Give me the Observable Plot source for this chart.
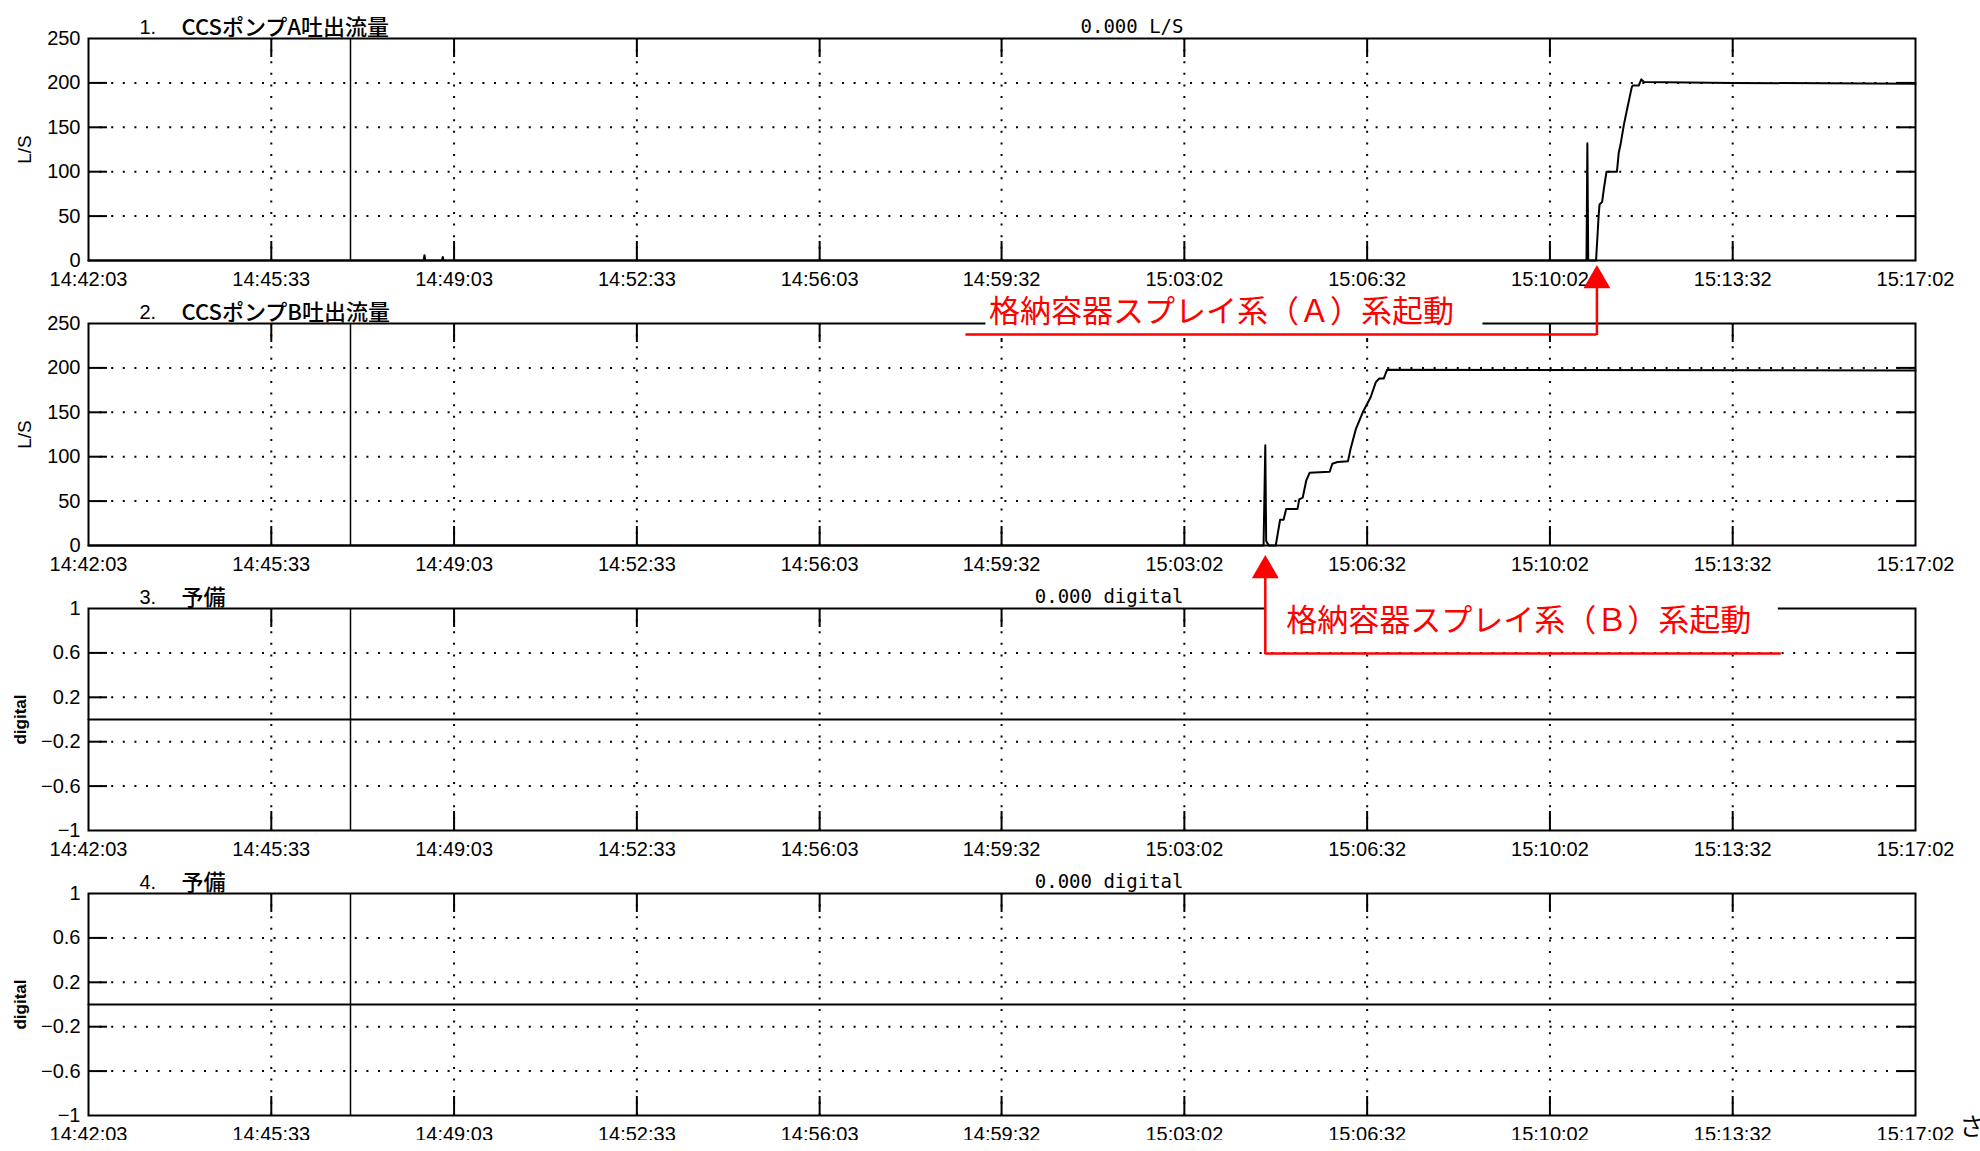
<!DOCTYPE html>
<html>
<head>
<meta charset="utf-8">
<script src="https://cdn.jsdelivr.net/npm/d3@7"></script>
<script src="https://cdn.jsdelivr.net/npm/@observablehq/plot@0.6"></script>
<style>
  html, body { margin: 0; padding: 0; background: #fff; }
  #chart { width: 1980px; }
</style>
</head>
<body>
<div id="chart"></div>
<script>
// Time axis labels (shared by all four channels)
const tickLabels = ["14:42:03", "14:45:33", "14:49:03", "14:52:33", "14:56:03", "14:59:32",
                    "15:03:02", "15:06:32", "15:10:02", "15:13:32", "15:17:02"];
const cursorTime = "14:47:04";

// 1. CCS pump A discharge flow (L/S)
const pumpATime = ["14:42:03", "14:48:28", "14:48:29", "14:48:30", "14:48:49", "14:48:50", "14:48:51",
                   "15:10:44", "15:10:45", "15:10:46", "15:10:55", "15:10:58", "15:10:59", "15:11:02",
                   "15:11:04", "15:11:07", "15:11:19", "15:11:21", "15:11:23", "15:11:27", "15:11:31",
                   "15:11:36", "15:11:37", "15:11:44", "15:11:47", "15:11:50", "15:13:32", "15:17:02"];
const pumpAFlow = [0, 0, 6, 0, 0, 4, 0,
                   0, 132, 0, 0, 51, 63, 66,
                   81, 100, 100, 121, 130, 153, 172,
                   195, 197, 197, 204, 201, 200, 199];

// 2. CCS pump B discharge flow (L/S)
const pumpBTime = ["14:42:03", "15:04:33", "15:04:35", "15:04:36", "15:04:39", "15:04:47", "15:04:52",
                   "15:04:56", "15:04:59", "15:05:12", "15:05:14", "15:05:18", "15:05:22", "15:05:26",
                   "15:05:49", "15:05:52", "15:05:58", "15:06:10", "15:06:13", "15:06:19", "15:06:27",
                   "15:06:36", "15:06:42", "15:06:46", "15:06:51", "15:06:55", "15:17:02"];
const pumpBFlow = [0, 0, 113, 5, 0, 0, 29,
                   29, 41, 41, 52, 54, 73, 82,
                   83, 92, 94, 95, 109, 131, 150,
                   167, 184, 188, 188, 198, 197];

// 3. / 4. spare digital channels
const spareTime = ["14:42:03", "15:17:02"];
const spare3 = [0, 0];
const spare4 = [0, 0];

// Y ticks
const flowTicks = [0, 50, 100, 150, 200, 250];
const flowTickLabels = ["0", "50", "100", "150", "200", "250"];
const digitalTicks = [-1, -0.6, -0.2, 0.2, 0.6, 1];
const digitalTickLabels = ["\u22121", "\u22120.6", "\u22120.2", "0.2", "0.6", "1"];

// Event callouts
const calloutA = {time: "15:10:56", text: "格納容器スプレイ系（Ａ）系起動"};
const calloutB = {time: "15:04:35", text: "格納容器スプレイ系（Ｂ）系起動"};

// ---------------------------------------------------------------------------
const parseTime = d3.utcParse("%H:%M:%S");
const formatTime = d3.utcFormat("%H:%M:%S");

const width = 1980, panelHeight = 285;
const marginTop = 38, marginRight = 65, marginBottom = 25, marginLeft = 88;
const frameW = width - marginLeft - marginRight;
const frameH = panelHeight - marginTop - marginBottom;
const tickLen = 19;

const tickFont = "'Liberation Sans', Arial, sans-serif";
const cjkFont = "'Noto Sans CJK JP', sans-serif";
const monoFont = "'DejaVu Sans Mono', monospace";

const xTicks = tickLabels.map(parseTime);
const xInner = xTicks.slice(1, -1);
const xDomain = [xTicks[0], xTicks[xTicks.length - 1]];
const cursor = parseTime(cursorTime);

const rows = (times, values) => times.map((t, i) => ({time: parseTime(t), value: values[i]}));

// Callout geometry, in pixels relative to the event point on the zero line
const calloutLayout = {
  A: {textAnchor: "end", textDx: -143, textDy: 52, leaderDy: 74, leaderFrom: -631, leaderTo: 0,
      shaftFrom: 28, tipDy: 20, boxLeft: -611, boxRight: -114, boxTop: 36, boxBottom: 78},
  B: {textAnchor: "start", textDx: 21, textDy: 76, leaderDy: 108, leaderFrom: 0, leaderTo: 516,
      shaftFrom: 33, tipDy: 25, boxLeft: 0, boxRight: 513, boxTop: 50, boxBottom: 106}
};

function calloutMarks(c, g) {
  const t = parseTime(c.time);
  const red = "#ff0000";
  return [
    // white label plate, blanking the panel border underneath
    Plot.rect([t], {x1: d => d, x2: d => d, y1: () => 0, y2: () => 0, fill: "white",
      insetLeft: g.boxLeft, insetRight: -g.boxRight, insetTop: g.boxTop, insetBottom: -g.boxBottom}),
    Plot.text([c.text], {x: () => t, y: () => 0, textAnchor: g.textAnchor, dx: g.textDx, dy: g.textDy,
      fill: red, fontFamily: cjkFont, fontSize: 31}),
    // leader line
    Plot.ruleY([0], {x1: () => t, x2: () => t, dy: g.leaderDy, insetLeft: g.leaderFrom, insetRight: -g.leaderTo,
      stroke: red, strokeWidth: 2.5}),
    // arrow shaft
    Plot.ruleX([t], {x: d => d, y1: () => 0, y2: () => 0, insetTop: g.shaftFrom, insetBottom: -g.leaderDy - 1,
      stroke: red, strokeWidth: 2.5}),
    // arrow head
    Plot.dot([t], {x: d => d, y: () => 0, dy: g.tipDy, symbol: "triangle", r: 10, fill: red})
  ];
}

const panels = [
  {no: "1.", name: "CCSポンプA吐出流量", readout: "0.000 L/S", unit: "L/S", unitBold: false,
   data: rows(pumpATime, pumpAFlow), yDomain: [0, 250], yTicks: flowTicks, yLabels: flowTickLabels,
   callout: [calloutA, calloutLayout.A]},
  {no: "2.", name: "CCSポンプB吐出流量", readout: null, unit: "L/S", unitBold: false,
   data: rows(pumpBTime, pumpBFlow), yDomain: [0, 250], yTicks: flowTicks, yLabels: flowTickLabels,
   callout: [calloutB, calloutLayout.B]},
  {no: "3.", name: "予備", readout: "0.000 digital", unit: "digital", unitBold: true,
   data: rows(spareTime, spare3), yDomain: [-1, 1], yTicks: digitalTicks, yLabels: digitalTickLabels},
  {no: "4.", name: "予備", readout: "0.000 digital", unit: "digital", unitBold: true,
   data: rows(spareTime, spare4), yDomain: [-1, 1], yTicks: digitalTicks, yLabels: digitalTickLabels,
   corner: "さ"}
];

const chart = document.getElementById("chart");

panels.forEach((p, i) => {
  const yInner = p.yTicks.slice(1, -1);
  const yLabelOf = new Map(p.yTicks.map((v, k) => [v, p.yLabels[k]]));
  const marks = [
    // dotted grid
    Plot.ruleY(yInner, {stroke: "black", strokeWidth: 2, strokeDasharray: "2,9.6"}),
    Plot.ruleX(xInner, {stroke: "black", strokeWidth: 2, strokeDasharray: "2,9.6"}),
    // inward tick marks on all four sides
    Plot.ruleX(xInner, {stroke: "black", strokeWidth: 2, insetBottom: frameH - tickLen}),
    Plot.ruleX(xInner, {stroke: "black", strokeWidth: 2, insetTop: frameH - tickLen}),
    Plot.ruleY(yInner, {stroke: "black", strokeWidth: 2, insetRight: frameW - tickLen}),
    Plot.ruleY(yInner, {stroke: "black", strokeWidth: 2, insetLeft: frameW - tickLen}),
    // cursor
    Plot.ruleX([cursor], {stroke: "black", strokeWidth: 1.5}),
    // trend
    Plot.line(p.data, {x: "time", y: "value", stroke: "black", strokeWidth: 2}),
    Plot.frame({stroke: "black", strokeWidth: 2}),
    // axes
    Plot.axisX(xTicks, {tickSize: 0, tickPadding: 11, tickFormat: formatTime, label: null, fontSize: 20}),
    Plot.axisY(p.yTicks, {tickSize: 0, tickPadding: 8, tickFormat: d => yLabelOf.get(d), label: null, fontSize: 20}),
    // unit label
    Plot.text([p.unit], {frameAnchor: "left", textAnchor: "middle", dx: p.unitBold ? -68 : -64, rotate: -90,
      fontSize: p.unitBold ? 17 : 19, fontWeight: p.unitBold ? "bold" : "normal"}),
    // channel title
    Plot.text([p.no], {frameAnchor: "top-left", dx: 51, dy: -19, textAnchor: "start", fontSize: 20}),
    Plot.text([p.name], {frameAnchor: "top-left", dx: 93, dy: -19, textAnchor: "start",
      fontFamily: cjkFont, fontSize: 22, fontWeight: 500})
  ];
  if (p.readout) {
    marks.push(Plot.text([p.readout], {frameAnchor: "top-left", dx: 1095, dy: -19, textAnchor: "end",
      fontFamily: monoFont, fontSize: 19}));
  }
  if (p.corner) {
    marks.push(Plot.text([p.corner], {frameAnchor: "bottom-right", dx: 44, dy: 19, textAnchor: "start",
      fontFamily: cjkFont, fontSize: 24}));
  }
  if (p.callout) marks.push(...calloutMarks(p.callout[0], p.callout[1]));

  const svg = Plot.plot({
    width, height: panelHeight,
    marginTop, marginRight, marginBottom, marginLeft,
    style: `position:relative;z-index:${10 - i};overflow:visible;font-family:${tickFont};font-size:20px;color:#000;`,
    x: {type: "utc", domain: xDomain},
    y: {domain: p.yDomain},
    marks
  });
  chart.appendChild(svg);
});
</script>
</body>
</html>
